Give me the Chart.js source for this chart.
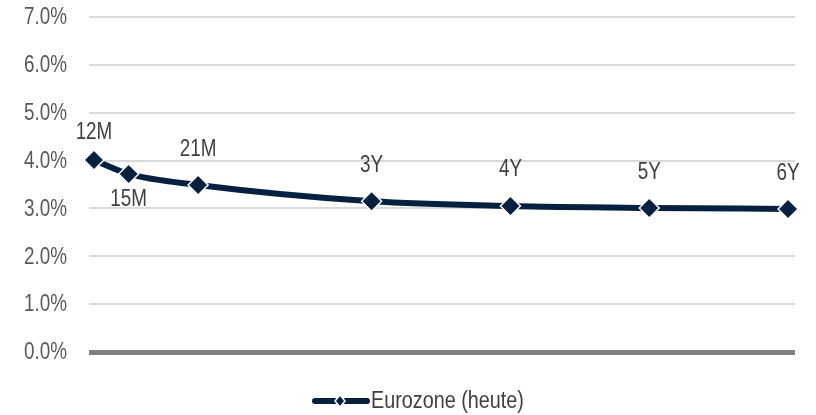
<!DOCTYPE html>
<html>
<head>
<meta charset="utf-8">
<script src="https://cdn.jsdelivr.net/npm/chart.js@4/dist/chart.umd.min.js"></script>
<style>
	html, body { margin:0; padding:0; background:#fff; }
	#wrap { width:816px; height:415px; position:relative; }
</style>
</head>
<body>
<div id="wrap"><canvas id="curveChart" width="816" height="415"></canvas></div>
<script>

// Maturities (in months) and their labels. 
var months = [12, 15, 21, 36, 48, 60, 72];
var tenors = ['12M', '15M', '21M', '3Y', '4Y', '5Y', '6Y'];

// Yields in percent. 
var yields = [4.01, 3.72, 3.49, 3.15, 3.05, 3.01, 2.99];

// Label offsets above (-) or below (+) each point, in px. 
var labelShift = [-27, 26, -35, -36, -36, -35, -35];

var seriesName = 'Eurozone (heute)';
var navy = '#06203f';
var font = '23px "Liberation Sans", Arial, sans-serif';


/*****/


// Write text in a narrow cut (Arial squeezed to Arial Narrow width). 
function narrowText(ctx, text, x, y, align, color, squeeze) {
	ctx.save();
	ctx.font = font;
	ctx.fillStyle = color;
	ctx.textAlign = align;
	ctx.textBaseline = 'middle';
	ctx.translate(x, y);
	ctx.scale(squeeze || 0.82, 1);
	ctx.fillText(text, 0, 0);
	ctx.restore();
}

// Percent labels on the value axis. 
const valueLabels = {
	id:'valueLabels',
	afterDraw(chart) {
		const scale = chart.scales.y;
		scale.ticks.forEach(function(t) {
			narrowText(chart.ctx, t.value.toFixed(1) + '%', 67, scale.getPixelForValue(t.value) + 1, 'right', '#595959');
		});
	}
};

// Draw the tenor names next to the points. 
const tenorLabels = {
	id:'tenorLabels',
	afterDatasetsDraw(chart) {
		const meta = chart.getDatasetMeta(0);
		meta.data.forEach(function(pt, i) {
			narrowText(chart.ctx, tenors[i], pt.x, pt.y + labelShift[i], 'center', '#404040');
		});
	}
};

// Legend under the plot: line with a diamond, then the series name. 
const lineLegend = {
	id:'lineLegend',
	afterDraw(chart) {
		const ctx = chart.ctx;
		const y = 401;
		ctx.save();
		ctx.strokeStyle = navy;
		ctx.lineWidth = 6;
		ctx.lineCap = 'round';
		ctx.beginPath();
		ctx.moveTo(315, y);
		ctx.lineTo(367, y);
		ctx.stroke();
		ctx.fillStyle = navy;
		ctx.strokeStyle = '#fff';
		ctx.lineWidth = 1.5;
		ctx.beginPath();
		ctx.moveTo(340, y - 6);
		ctx.lineTo(345, y);
		ctx.lineTo(340, y + 6);
		ctx.lineTo(335, y);
		ctx.closePath();
		ctx.fill();
		ctx.stroke();
		ctx.restore();
		narrowText(ctx, seriesName, 371, y + 1, 'left', '#404040', 0.86);
	}
};

const points = months.map(function(m, i) { return {x:m, y:yields[i]}; });

const chart = {
	type:'line',
	data:{
		datasets:[
			{
				label:seriesName,
				data:points,
				clip:false,
				borderColor:navy,
				borderWidth:6,
				cubicInterpolationMode:'monotone',
				pointStyle:'rectRot',
				pointRadius:10,
				pointBackgroundColor:navy,
				pointBorderColor:'#fff',
				pointBorderWidth:1.5
			}
		]
	},
	options:{
		responsive:false,
		animation:false,
		layout:{ autoPadding:false, padding:{ top:17, right:21, bottom:63, left:0 } },
		plugins:{
			legend:{ display:false },
			tooltip:{ enabled:false }
		},
		scales:{
			x:{
				type:'linear',
				min:11.57,
				max:72.6,
				display:false
			},
			y:{
				min:0,
				max:7,
				border:{ display:false },
				ticks:{ stepSize:1, display:false },
				grid:{
					drawTicks:false,
					color:function(c) { return c.tick && c.tick.value === 0 ? '#808080' : '#d9d9d9'; },
					lineWidth:function(c) { return c.tick && c.tick.value === 0 ? 5 : 2; }
				},
				afterFit:function(scale) { scale.width = 89; }
			}
		}
	},
	plugins:[valueLabels, tenorLabels, lineLegend]
};

var curveChart = new Chart(document.getElementById('curveChart').getContext('2d'), chart);
</script>
</body>
</html>
